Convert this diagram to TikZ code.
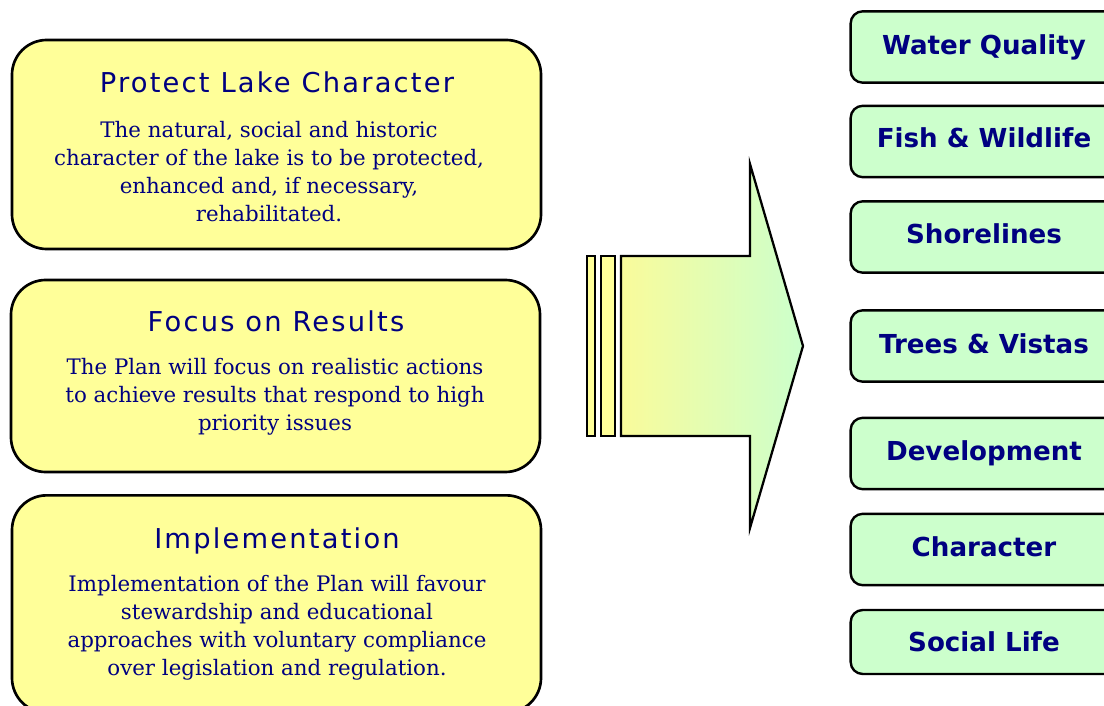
\documentclass[tikz,border=0pt]{standalone}
\usepackage{fontspec}
\setmainfont{DejaVu Serif}
\newfontfamily\headfont[LetterSpace=8]{DejaVu Sans}
\newfontfamily\topicfont{DejaVu Sans}
\definecolor{boxyellow}{HTML}{FFFF99}
\definecolor{arrowyellow}{HTML}{F9FB9B}
\definecolor{boxgreen}{HTML}{CCFFCC}
\definecolor{navy}{HTML}{000080}
\begin{document}
\begin{tikzpicture}[x=0.75pt,y=-0.75pt,
	    aimbox/.style={draw=black, line width=2pt, fill=boxyellow, rounded corners=26pt,
	        minimum width=396.75pt, inner sep=0pt},
	    aimtitle/.style={text=navy, inner sep=0pt, anchor=base, font=\headfont\fontsize{20.5}{24}\selectfont},
	    aimtext/.style={text=navy, inner sep=0pt, align=center, font=\fontsize{16}{21}\selectfont},
	    topicbox/.style={draw=black, line width=1.8pt, fill=boxgreen, rounded corners=9pt,
	        minimum width=200pt, minimum height=53.5pt, inner sep=0pt},
	    topic/.style={text=navy, inner sep=0pt, anchor=base, font=\topicfont\bfseries\fontsize{19.6}{22}\selectfont}]
	    \useasboundingbox (0,0) rectangle (1104,706);
	    \clip (0,0) rectangle (1104,706);
	    
	    % left column
	    \node[aimbox, minimum height=156.75pt] at (276.5, 144.5) (Protect) {};
	    \node[aimbox, minimum height=144pt] at (275.5, 376) (Focus) {};
	    \node[aimbox, minimum height=163pt] at (276.5, 604) (Impl) {};
	    
	    \node[aimtitle] at (277, 93) (ProtectT) {Protect Lake Character};
	    \node[aimtext] at (269, 172) (ProtectB) {The natural, social and historic\\character of the lake is to be protected,\\enhanced and, if necessary,\\rehabilitated.};
	    \node[aimtitle] at (276, 331) (FocusT) {Focus on Results};
	    \node[aimtext] at (275, 397) (FocusB) {The Plan will focus on realistic actions\\to achieve results that respond to high\\priority issues};
	    \node[aimtitle] at (277, 548) (ImplT) {Implementation};
	    \node[aimtext] at (277, 628) (ImplB) {Implementation of the Plan will favour\\stewardship and educational\\approaches with voluntary compliance\\over legislation and regulation.};
	    
	    % striped arrow
	    \draw[line width=1.7pt, fill=boxyellow] (587,256) rectangle (595,436);
	    \draw[line width=1.7pt, fill=boxyellow] (601,256) rectangle (615,436);
	    \shade[left color=arrowyellow, right color=boxgreen, draw=black, line width=1.7pt, line join=miter]
	        (621,256) -- (750,256) -- (750,164) -- (803,346) -- (750,528) -- (750,436) -- (621,436) -- cycle;
	    
	    % right column
	    \node[topicbox] at (984, 47) (Water) {};
	    \node[topicbox] at (984, 141.5) (Fish) {};
	    \node[topicbox] at (984, 237) (Shore) {};
	    \node[topicbox] at (984, 346) (Trees) {};
	    \node[topicbox] at (984, 453.5) (Dev) {};
	    \node[topicbox] at (984, 549.5) (Char) {};
	    \node[topicbox, minimum height=48pt] at (984, 642) (Social) {};
	    
	    \node[topic] at (984, 55) (WaterT) {Water Quality};
	    \node[topic] at (984, 148) (FishT) {Fish \& Wildlife};
	    \node[topic] at (984, 244) (ShoreT) {Shorelines};
	    \node[topic] at (984, 353) (TreesT) {Trees \& Vistas};
	    \node[topic] at (984, 460) (DevT) {Development};
	    \node[topic] at (984, 556) (CharT) {Character};
	    \node[topic] at (984, 651) (SocialT) {Social Life};
	    
	    \end{tikzpicture}
\end{document}
